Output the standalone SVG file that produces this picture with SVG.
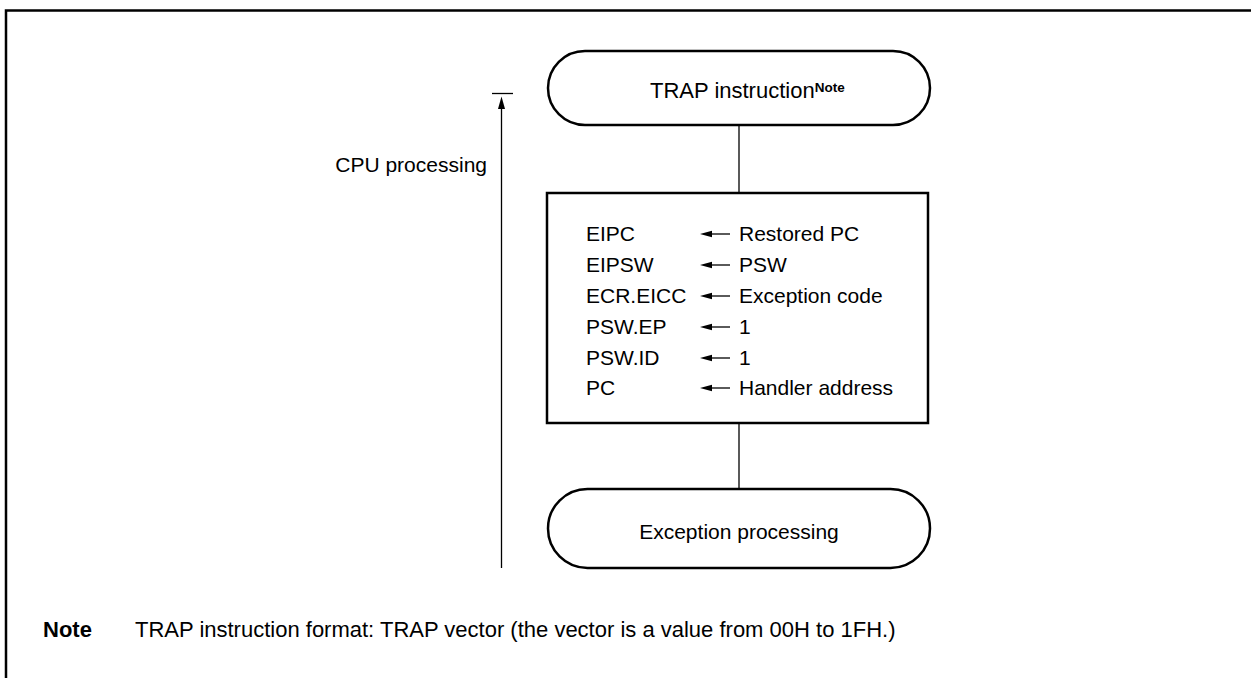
<svg xmlns="http://www.w3.org/2000/svg" width="1251" height="678" viewBox="0 0 1251 678">
<defs>
<style>
text{font-family:"Liberation Sans",Arial,sans-serif;font-size:21px;fill:#000}
.b{font-weight:bold}
.big{font-size:22px}
.shape{fill:#fff;stroke:#000;stroke-width:2.5}
.ln{stroke:#000;stroke-width:1.3;fill:none}
.head{fill:#000;stroke:none}
</style>
<path id="lh" d="M0,0 L12,-3.2 L12,3.2 Z"/>
</defs>
<rect x="0" y="0" width="1251" height="678" fill="#fff"/>
<path d="M6,680 V10.5 H1253" fill="none" stroke="#000" stroke-width="2.5"/>
<g id="connectors">
<line class="ln" x1="739" y1="125" x2="739" y2="193"/>
<line class="ln" x1="739" y1="423" x2="739" y2="489"/>
<line class="ln" x1="492" y1="93.5" x2="513" y2="93.5"/>
<path d="M501.5,568 V108" class="ln"/>
<path d="M501.5,96.5 L498,109 L505,109 Z" class="head"/>
</g>
<g id="cpu-label"><text x="487" y="172" text-anchor="end">CPU processing</text></g>
<g id="trap">
<rect class="shape" x="548" y="51" width="382" height="74" rx="37" ry="37"/>
<text class="big" x="650" y="98">TRAP instruction<tspan class="b" font-size="13.5" dy="-6">Note</tspan></text>
</g>
<g id="box">
<rect class="shape" x="547" y="193" width="381" height="230"/>
<g id="row-labels">
<text x="586" y="241">EIPC</text>
<text x="586" y="272">EIPSW</text>
<text x="586" y="303">ECR.EICC</text>
<text x="586" y="334">PSW.EP</text>
<text x="586" y="365">PSW.ID</text>
<text x="586" y="395">PC</text>
</g>
<g id="row-arrows">
<line class="ln" x1="730" y1="234" x2="711" y2="234"/><use href="#lh" x="700" y="234" class="head"/>
<line class="ln" x1="730" y1="265" x2="711" y2="265"/><use href="#lh" x="700" y="265" class="head"/>
<line class="ln" x1="730" y1="296" x2="711" y2="296"/><use href="#lh" x="700" y="296" class="head"/>
<line class="ln" x1="730" y1="327" x2="711" y2="327"/><use href="#lh" x="700" y="327" class="head"/>
<line class="ln" x1="730" y1="358" x2="711" y2="358"/><use href="#lh" x="700" y="358" class="head"/>
<line class="ln" x1="730" y1="388" x2="711" y2="388"/><use href="#lh" x="700" y="388" class="head"/>
</g>
<g id="row-values">
<text x="739" y="241">Restored PC</text>
<text x="739" y="272">PSW</text>
<text x="739" y="303">Exception code</text>
<text x="739" y="334">1</text>
<text x="739" y="365">1</text>
<text x="739" y="395">Handler address</text>
</g>
</g>
<g id="exception">
<rect class="shape" x="548" y="489" width="382" height="79" rx="39.5" ry="39.5"/>
<text x="739" y="539" text-anchor="middle">Exception processing</text>
</g>
<g id="note">
<text class="b big" x="43" y="637">Note</text>
<text class="big" x="135" y="637">TRAP instruction format: TRAP vector (the vector is a value from 00H to 1FH.)</text>
</g>
</svg>
